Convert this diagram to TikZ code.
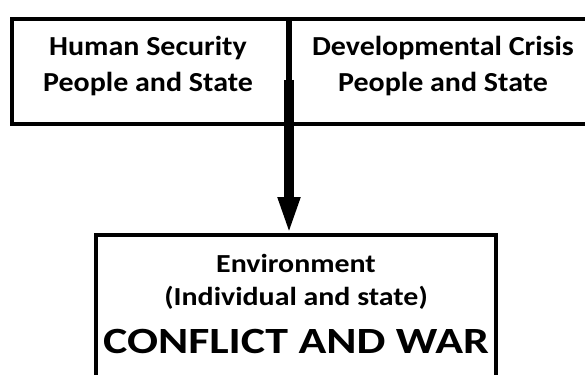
\documentclass[tikz,border=0pt]{standalone}
\usepackage{fontspec}
\setmainfont{Carlito}
\usetikzlibrary{arrows.meta}
\begin{document}
\begin{tikzpicture}[x=1pt,y=1pt,
  box/.style={draw=black,line width=3.5pt,rectangle,inner sep=0pt,outer sep=0pt},
  lbl/.style={font=\bfseries\fontsize{27.5}{36}\selectfont,align=center,inner sep=0pt,anchor=base,xscale=1.09},
  mid/.style={font=\bfseries\fontsize{26}{30}\selectfont,inner sep=0pt,anchor=base,xscale=1.15},
  big/.style={font=\bfseries\fontsize{37}{42}\selectfont,inner sep=0pt,anchor=base,xscale=1.24}
]
\useasboundingbox (0,0) rectangle (585,-374);
\node[box,minimum width=277pt,minimum height=105pt,anchor=north west] (hs) at (12,-19) {};
\node[box,minimum width=306pt,minimum height=105pt,anchor=north west] (dc) at (289,-19) {};
\node[box,minimum width=400pt,minimum height=150pt,anchor=north west] (env) at (96,-235) {};
\node[lbl] (t1) at (148,-92) {Human Security\\People and State};
\node[lbl] (t2) at (443,-92) {Developmental Crisis\\People and State};
\node[mid] (t3) at (296,-272) {Environment};
\node[mid] (t4) at (296,-305) {(Individual and state)};
\node[big] (t5) at (296,-353) {CONFLICT AND WAR};
\coordinate (a0) at (289,-80);
\draw[line width=6pt] (hs.north east) -- (a0);
\draw[line width=10pt,-{Triangle[width=20pt,length=38pt]}] (a0) -- (env.north -| a0);
\end{tikzpicture}
\end{document}
